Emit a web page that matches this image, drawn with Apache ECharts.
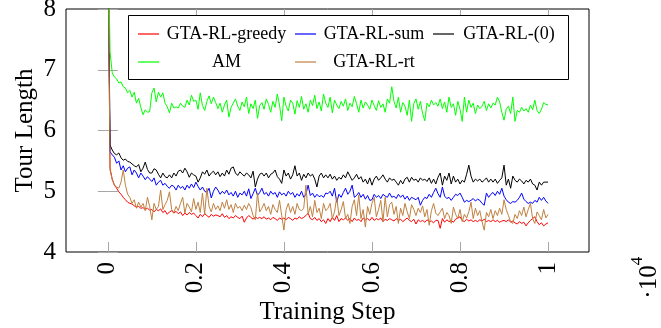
<!DOCTYPE html>
<html>
<head>
<meta charset="utf-8">
<script src="https://cdn.jsdelivr.net/npm/echarts@6/dist/echarts.min.js"></script>
<style>
html,body{margin:0;padding:0;background:#fff;}
#chart{width:661px;height:328px;}
</style>
</head>
<body>
<div id="chart"></div>
<script>
// x positions in units of 10^4 training steps (201 evenly spaced samples)
const steps = Array.from({length: 201}, (_, i) => +(i * 0.005).toFixed(3));
const xTickValues = [0, 0.2, 0.4, 0.6, 0.8, 1];
const yTickValues = [4, 5, 6, 7, 8];
const seriesNames = ['GTA-RL-greedy', 'GTA-RL-sum', 'GTA-RL-(0)', 'AM', 'GTA-RL-rt'];

const greedy = [
9.6, 5.38, 5.2, 5.1, 5.05, 4.99, 4.95, 4.9, 4.86, 4.82,
4.8, 4.79, 4.76, 4.74, 4.75, 4.72, 4.73, 4.7, 4.72, 4.69,
4.7, 4.66, 4.7, 4.68, 4.71, 4.65, 4.68, 4.62, 4.66, 4.68,
4.64, 4.67, 4.63, 4.66, 4.6, 4.64, 4.61, 4.65, 4.62, 4.64,
4.6, 4.56, 4.62, 4.58, 4.63, 4.6, 4.57, 4.62, 4.59, 4.61,
4.6, 4.58, 4.63, 4.57, 4.6, 4.55, 4.58, 4.56, 4.6, 4.57,
4.55, 4.59, 4.49, 4.56, 4.6, 4.57, 4.54, 4.58, 4.55, 4.57,
4.55, 4.58, 4.54, 4.56, 4.53, 4.57, 4.55, 4.52, 4.56, 4.54,
4.56, 4.53, 4.57, 4.55, 4.52, 4.56, 4.54, 4.58, 4.55, 4.57,
4.6, 4.64, 4.55, 4.53, 4.57, 4.52, 4.55, 4.5, 4.53, 4.47,
4.55, 4.5, 4.57, 4.52, 4.6, 4.5, 4.55, 4.53, 4.56, 4.52,
4.55, 4.5, 4.56, 4.52, 4.54, 4.5, 4.56, 4.53, 4.55, 4.52,
4.57, 4.52, 4.55, 4.53, 4.56, 4.5, 4.54, 4.52, 4.55, 4.53,
4.51, 4.55, 4.52, 4.54, 4.5, 4.53, 4.56, 4.52, 4.5, 4.54,
4.46, 4.53, 4.5, 4.52, 4.49, 4.53, 4.5, 4.51, 4.48, 4.52,
4.52, 4.39, 4.55, 4.49, 4.53, 4.5, 4.52, 4.49, 4.54, 4.56,
4.58, 4.52, 4.5, 4.54, 4.51, 4.53, 4.5, 4.52, 4.5, 4.53,
4.51, 4.54, 4.5, 4.52, 4.5, 4.53, 4.5, 4.52, 4.49, 4.51,
4.52, 4.5, 4.53, 4.49, 4.51, 4.48, 4.46, 4.5, 4.47, 4.49,
4.43, 4.48, 4.52, 4.55, 4.58, 4.5, 4.45, 4.48, 4.43, 4.46,
4.48
];

const sum = [
9.7, 5.65, 5.6, 5.56, 5.46, 5.5, 5.35, 5.42, 5.32, 5.38,
5.4, 5.27, 5.35, 5.3, 5.22, 5.3, 5.25, 5.19, 5.24, 5.2,
5.16, 5.22, 5.1, 5.15, 5.18, 5.1, 5.13, 5.08, 5.05, 5.1,
5.08, 5.02, 5.1, 5.05, 5.08, 5.02, 5.1, 5.05, 5.12, 5.06,
5.15, 5.08, 5.02, 5.07, 5.0, 4.98, 5.05, 4.89, 5.0, 5.07,
5.02, 4.95, 5.0, 4.96, 5.02, 4.94, 4.98, 4.92, 5.0, 4.9,
4.97, 4.94, 5.0, 4.92, 5.04, 4.88, 4.96, 5.05, 4.93, 4.98,
5.05, 4.95, 4.98, 4.92, 5.0, 4.95, 4.98, 4.9, 4.99, 4.94,
4.97, 4.92, 5.0, 4.95, 4.98, 4.9, 4.96, 4.92, 5.0, 4.9,
4.95, 5.1, 4.93, 4.97, 4.9, 4.95, 4.91, 4.93, 4.9, 4.97,
4.96, 5.0, 4.92, 5.05, 4.82, 4.95, 4.9, 4.98, 5.05, 4.95,
5.0, 5.1, 4.9, 4.93, 4.98, 4.9, 4.95, 4.87, 4.93, 4.85,
4.86, 4.95, 4.9, 4.93, 4.88, 4.95, 4.92, 4.9, 4.97, 4.9,
4.92, 4.88, 4.95, 4.9, 4.94, 4.87, 4.92, 4.85, 4.9, 4.88,
4.86, 4.9, 4.77, 4.85, 4.9, 4.88, 4.95, 4.9, 4.98, 5.05,
4.96, 4.9, 5.07, 4.92, 4.88, 4.9, 4.85, 4.9, 4.95, 4.93,
4.97, 4.9, 4.82, 4.85, 4.83, 4.85, 4.88, 4.84, 4.87, 4.85,
4.8, 4.77, 4.97, 4.9, 4.95, 4.98, 4.93, 5.0, 4.95, 5.05,
4.92, 4.86, 4.82, 4.8, 4.83, 4.82, 4.85, 4.9, 4.97, 4.87,
4.83, 4.8, 4.82, 4.8, 4.85, 4.82, 4.9, 4.85, 4.9, 4.84,
4.8
];

const zero = [
9.8, 5.76, 5.68, 5.62, 5.6, 5.63, 5.55, 5.51, 5.53, 5.49,
5.48, 5.45, 5.42, 5.4, 5.44, 5.32, 5.38, 5.48, 5.36, 5.3,
5.3, 5.37, 5.35, 5.28, 5.22, 5.3, 5.24, 5.22, 5.27, 5.22,
5.3, 5.25, 5.33, 5.35, 5.3, 5.38, 5.32, 5.23, 5.3, 5.27,
5.25, 5.15, 5.22, 5.32, 5.28, 5.35, 5.25, 5.3, 5.33, 5.27,
5.32, 5.24, 5.3, 5.25, 5.35, 5.28, 5.38, 5.4, 5.3, 5.26,
5.32, 5.28, 5.25, 5.3, 5.27, 5.22, 5.33, 5.07, 5.2, 5.28,
5.3, 5.25, 5.3, 5.22, 5.28, 5.3, 5.35, 5.24, 5.2, 5.13,
5.35, 5.25, 5.3, 5.2, 5.27, 5.42, 5.25, 5.3, 5.18, 5.28,
5.22, 5.3, 5.25, 5.28, 5.2, 5.07, 5.25, 5.3, 5.22, 5.27,
5.22, 5.28, 5.2, 5.25, 5.18, 5.23, 5.2, 5.27, 5.22, 5.32,
5.25, 5.18, 5.22, 5.28, 5.2, 5.24, 5.15, 5.2, 5.12, 5.22,
5.1, 5.2, 5.25, 5.18, 5.22, 5.27, 5.2, 5.15, 5.22, 5.18,
5.2, 5.15, 5.1, 5.18, 5.12, 5.2, 5.23, 5.15, 5.23, 5.18,
5.2, 5.15, 5.22, 5.18, 5.2, 5.16, 5.22, 5.13, 5.2, 5.12,
5.23, 5.3, 5.1, 5.25, 5.18, 5.3, 5.12, 5.25, 5.15, 5.2,
5.12, 5.18, 5.15, 5.28, 5.43, 5.25, 5.15, 5.2, 5.17, 5.2,
5.15, 5.18, 5.22, 5.15, 5.2, 5.15, 5.2, 5.13, 5.18, 5.22,
5.43, 5.1, 5.2, 5.05, 5.25, 5.18, 5.15, 5.2, 5.17, 5.12,
5.18, 5.15, 5.2, 5.12, 5.1, 5.02, 5.15, 5.1, 5.15, 5.15,
5.15
];

const am = [
9.5, 7.3, 6.95, 6.88, 6.85, 6.78, 6.8, 6.72, 6.7, 6.62,
6.66, 6.55, 6.63, 6.45, 6.53, 6.38, 6.26, 6.34, 6.3, 6.31,
6.62, 6.7, 6.47, 6.63, 6.55, 6.62, 6.45, 6.39, 6.29, 6.45,
6.37, 6.39, 6.37, 6.45, 6.4, 6.38, 6.5, 6.42, 6.58, 6.48,
6.5, 6.35, 6.62, 6.41, 6.33, 6.48, 6.57, 6.44, 6.55, 6.46,
6.36, 6.45, 6.3, 6.42, 6.5, 6.22, 6.38, 6.45, 6.52, 6.4,
6.33, 6.47, 6.39, 6.55, 6.28, 6.44, 6.36, 6.5, 6.2, 6.41,
6.46, 6.35, 6.52, 6.43, 6.3, 6.48, 6.38, 6.6, 6.42, 6.16,
6.55, 6.4, 6.32, 6.5, 6.45, 6.27, 6.49, 6.38, 6.56, 6.35,
6.44, 6.3, 6.5, 6.41, 6.58, 6.36, 6.47, 6.32, 6.6, 6.45,
6.38, 6.55, 6.29, 6.5, 6.42, 6.36, 6.48, 6.4, 6.52, 6.33,
6.45, 6.39, 6.56, 6.44, 6.3, 6.5, 6.37, 6.47, 6.42, 6.35,
6.5, 6.41, 6.33, 6.49, 6.38, 6.44, 6.3, 6.52, 6.45, 6.72,
6.48, 6.37, 6.55, 6.3, 6.46, 6.4, 6.25, 6.5, 6.15, 6.44,
6.52, 6.35, 6.48, 6.28, 6.16, 6.45, 6.39, 6.5, 6.42, 6.46,
6.4, 6.52, 6.36, 6.47, 6.3, 6.55, 6.38, 6.44, 6.25, 6.48,
6.35, 6.15, 6.55, 6.3, 6.5, 6.38, 6.45, 6.28, 6.42, 6.36,
6.4, 6.48, 6.33, 6.44, 6.37, 6.45, 6.42, 6.55, 6.47, 6.3,
6.17, 6.35, 6.4, 6.28, 6.55, 6.15, 6.33, 6.3, 6.38, 6.32,
6.36, 6.3, 6.42, 6.34, 6.5, 6.33, 6.28, 6.35, 6.46, 6.43,
6.42
];

const rt = [
9.6, 5.35, 5.19, 5.1, 5.07, 5.05, 5.15, 5.35, 5.1, 4.95,
4.9, 4.8, 4.86, 4.72, 4.82, 4.74, 4.8, 4.68, 4.9, 4.75,
4.53, 4.8, 4.7, 4.75, 5.02, 4.7, 4.78, 4.85, 4.99, 4.7,
4.65, 4.75, 4.68, 4.8, 4.9, 4.64, 4.8, 4.74, 4.66, 4.88,
4.7, 4.82, 4.65, 4.97, 4.62, 5.05, 4.75, 4.66, 4.8, 4.7,
4.76, 4.68, 4.82, 4.72, 4.86, 4.7, 4.78, 4.65, 4.8, 4.72,
4.75, 4.68, 4.77, 4.7, 4.8, 4.73, 4.6, 4.53, 4.97, 4.66,
4.72, 4.8, 4.68, 4.75, 4.62, 4.78, 4.7, 4.65, 4.85, 4.6,
4.36, 4.7, 4.8, 4.65, 4.75, 4.62, 4.8, 4.7, 4.68, 4.72,
5.1, 4.62, 4.75, 4.58, 4.85, 4.65, 4.72, 4.55, 4.8, 4.68,
4.72, 4.8, 4.55, 4.66, 4.9, 4.6, 4.7, 4.83, 4.55, 4.62,
4.47, 4.75, 4.86, 4.6, 4.94, 4.55, 4.7, 4.41, 4.75, 4.62,
4.8, 4.9, 4.58, 4.7, 4.85, 4.5, 4.9, 4.58, 4.78, 4.82,
4.62, 4.75, 4.47, 4.72, 4.6, 4.8, 4.66, 4.55, 4.78, 4.7,
4.6, 4.72, 4.65, 4.76, 4.58, 4.7, 4.44, 4.68, 4.8, 4.64,
4.6, 4.66, 4.72, 4.55, 4.65, 4.6, 4.47, 4.74, 4.62, 4.55,
4.7, 4.5, 4.62, 4.56, 4.66, 4.82, 4.55, 4.72, 4.6, 4.68,
4.5, 4.36, 4.65, 4.58, 4.7, 4.55, 4.68, 4.6, 4.72, 4.62,
4.86, 4.7, 4.6, 4.5, 4.47, 4.62, 4.55, 4.68, 4.6, 4.74,
4.58, 4.7, 4.8, 4.55, 4.47, 4.66, 4.6, 4.53, 4.7, 4.56,
4.62
];

const colors = ['#ff0000', '#0000ff', '#000000', '#00ff00', '#bf8040'];
const values = [greedy, sum, zero, am, rt];

const FONT = '"Liberation Serif", "Times New Roman", serif';
const TICK = '#a6a6a6';

function pairs(ys) { return ys.map((y, i) => [steps[i], y]); }

const chart = echarts.init(document.getElementById('chart'), null, {renderer: 'canvas'});

const xMin = -0.095, xMax = 1.093;

// legend slot layout: [name, icon left, row top, text box width]
const legendSlots = [
  ['GTA-RL-greedy', 138, 25, 125],
  ['GTA-RL-sum', 295, 25, 106],
  ['GTA-RL-(0)', 433, 25, 100],
  ['AM', 138, 53, 125],
  ['GTA-RL-rt', 295, 53, 106]
];
const legends = legendSlots.map(([name, left, top, w]) => ({
  data: [name],
  left: left, top: top,
  orient: 'horizontal',
  itemWidth: 21, itemHeight: 1.2, itemGap: 0,
  icon: 'rect',
  padding: 0,
  z: 20,
  formatter: '{t|{name}}',
  textStyle: {
    fontFamily: FONT, fontSize: 18, color: '#000',
    rich: {t: {width: w, height: 22, align: 'center', fontFamily: FONT, fontSize: 18, color: '#000'}}
  }
}));

chart.setOption({
  animation: false,
  backgroundColor: '#fff',
  grid: {
    left: 66, right: 72, top: 9, bottom: 76,
    show: true, borderColor: '#000', borderWidth: 1, backgroundColor: 'transparent',
    containLabel: false, outerBoundsMode: 'none'
  },
  legend: legends,
  graphic: [
    {type: 'rect', z: 15, shape: {x: 128.5, y: 15.5, width: 440, height: 64},
     style: {fill: '#fff', stroke: '#000', lineWidth: 1}},
    {type: 'text', z: 15, x: 649, y: 282, rotation: Math.PI / 2,
     style: {text: '·10', font: '25px ' + FONT, fill: '#000', textAlign: 'center', textVerticalAlign: 'middle'}},
    {type: 'text', z: 15, x: 638, y: 261, rotation: Math.PI / 2,
     style: {text: '4', font: '17px ' + FONT, fill: '#000', textAlign: 'center', textVerticalAlign: 'middle'}}
  ],
  xAxis: [
    {
      type: 'value', min: xMin, max: xMax, position: 'bottom',
      name: 'Training Step', nameLocation: 'middle', nameGap: 48, nameMoveOverlap: false,
      nameTextStyle: {fontFamily: FONT, fontSize: 25, color: '#000'},
      axisLine: {show: false},
      splitLine: {show: false},
      axisTick: {show: true, inside: true, length: 10, customValues: xTickValues, lineStyle: {color: TICK, width: 1}},
      axisLabel: {
        show: true, rotate: 90, margin: 10, customValues: xTickValues,
        fontFamily: FONT, fontSize: 25, color: '#000',
        formatter: v => (Math.abs(v) < 1e-9 ? '0' : Math.abs(v - 1) < 1e-9 ? '1' : v.toFixed(1))
      }
    },
    {
      type: 'value', min: xMin, max: xMax, position: 'top',
      axisLine: {show: false}, splitLine: {show: false},
      axisTick: {show: true, inside: true, length: 10, customValues: xTickValues, lineStyle: {color: TICK, width: 1}},
      axisLabel: {show: false}
    }
  ],
  yAxis: [
    {
      type: 'value', min: 4, max: 8, interval: 1, position: 'left',
      name: 'Tour Length', nameLocation: 'middle', nameGap: 28, nameRotate: 90, nameMoveOverlap: false,
      nameTextStyle: {fontFamily: FONT, fontSize: 25, color: '#000'},
      axisLine: {show: false}, splitLine: {show: false},
      axisTick: {show: true, inside: true, length: 10, lineStyle: {color: TICK, width: 1}},
      axisLabel: {show: true, margin: 10, fontFamily: FONT, fontSize: 25, color: '#000'}
    },
    {
      type: 'value', min: 4, max: 8, interval: 1, position: 'right',
      axisLine: {show: false}, splitLine: {show: false},
      axisTick: {show: true, inside: true, length: 10, lineStyle: {color: TICK, width: 1}},
      axisLabel: {show: false}
    }
  ],
  series: seriesNames.map((name, k) => ({
    name: name,
    type: 'line',
    xAxisIndex: 0, yAxisIndex: 0,
    data: pairs(values[k]),
    symbol: 'none',
    showSymbol: false,
    clip: true,
    z: 2 + k * 0.1,
    color: colors[k],
    lineStyle: {color: colors[k], width: 1},
    emphasis: {disabled: true}
  }))
});
</script>
</body>
</html>
